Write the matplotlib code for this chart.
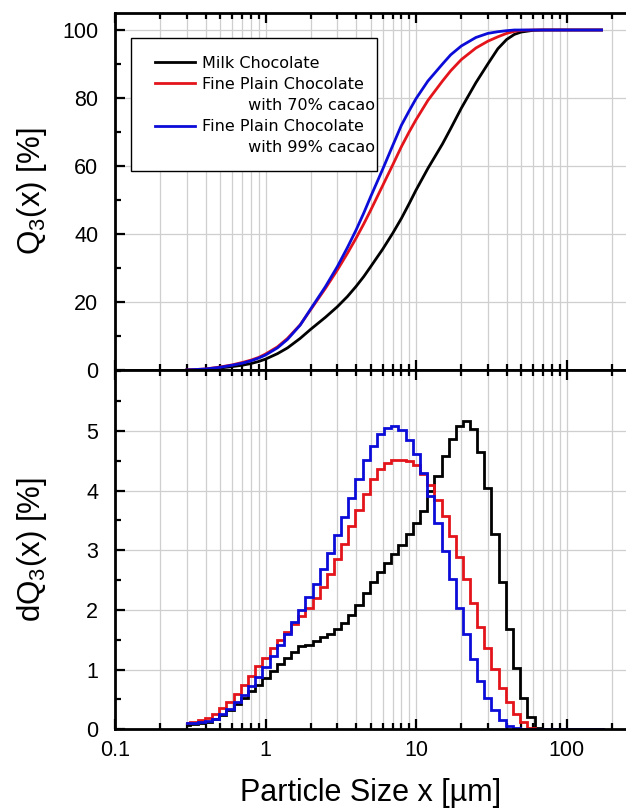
import matplotlib
matplotlib.use('Agg')
import matplotlib.pyplot as plt
from matplotlib.lines import Line2D
from matplotlib.patches import Rectangle
from matplotlib.legend_handler import HandlerLine2D
from matplotlib.ticker import FixedLocator, NullFormatter, MultipleLocator, LogLocator

plt.rcParams['font.family'] = ['Liberation Sans', 'DejaVu Sans']
plt.rcParams['mathtext.fontset'] = 'custom'
plt.rcParams['mathtext.rm'] = 'Liberation Sans'
plt.rcParams['mathtext.it'] = 'Liberation Sans:italic'

# ---------------- data ----------------
labels = ['Milk Chocolate', 'Fine Plain Chocolate', 'Fine Plain Chocolate']
label_cont = ['', '         with 70% cacao', '         with 99% cacao']
colors = ['#000000', '#e4141b', '#0c0cd8']

# cumulative distribution Q3(x) [%]
q3_size = [0.3, 0.4, 0.5, 0.6, 0.7, 0.8, 0.9, 1.0, 1.2, 1.4, 1.7, 2.0, 2.5, 3.0, 3.5,
           4.0, 4.5, 5.0, 6.0, 7.0, 8.0, 9.0, 10.0, 12.0, 15.0, 17.0, 20.0, 25.0,
           30.0, 35.0, 40.0, 45.0, 50.0, 60.0, 70.0, 100.0, 171.0]
q3_milk = [0.0, 0.2, 0.6, 1.0, 1.4, 1.9, 2.5, 3.2, 4.8, 6.5, 9.3, 12.0, 15.5, 18.6, 21.6,
           24.6, 27.5, 30.4, 35.5, 40.2, 44.6, 48.9, 52.9, 59.3, 66.5, 71.0, 77.0, 84.5,
           90.0, 94.5, 97.2, 98.7, 99.4, 99.9, 100.0, 100.0, 100.0]
q3_70 = [0.0, 0.3, 0.9, 1.5, 2.2, 2.9, 3.7, 4.7, 6.8, 9.3, 13.3, 17.8, 24.0, 29.4, 34.3,
         38.8, 43.0, 47.0, 54.2, 60.3, 65.7, 70.0, 73.6, 79.3, 85.0, 88.0, 91.3, 94.7,
         96.7, 98.0, 99.0, 99.6, 99.9, 100.0, 100.0, 100.0, 100.0]
q3_99 = [0.0, 0.3, 0.8, 1.4, 2.0, 2.7, 3.5, 4.4, 6.5, 9.0, 13.2, 18.0, 24.5, 30.4, 36.0,
         41.2, 46.2, 51.0, 59.0, 66.0, 72.0, 76.2, 79.8, 85.0, 90.0, 92.7, 95.3, 97.8,
         99.0, 99.5, 99.8, 100.0, 100.0, 100.0, 100.0, 100.0, 100.0]

# density distribution dQ3(x) [%] per size class
dq3_size = [0.300, 0.3348, 0.3737, 0.4171, 0.4656, 0.5197, 0.5801, 0.6475, 0.7227, 0.8066,
            0.9003, 1.0049, 1.1216, 1.2519, 1.3973, 1.5597, 1.7409, 1.9431, 2.1689, 2.4208,
            2.7020, 3.000, 3.348, 3.737, 4.171, 4.656, 5.197, 5.801, 6.475, 7.227,
            8.066, 9.003, 10.05, 11.22, 12.52, 13.97, 15.60, 17.41, 19.43, 21.69,
            24.21, 27.02, 30.00, 33.48, 37.37, 41.71, 46.56, 51.97, 58.01, 64.75,
            72.27, 80.66, 90.03, 100.5, 112.2, 125.2, 139.7, 156.0, 174.1]
dq3_milk = [0.08, 0.09, 0.10, 0.13, 0.18, 0.24, 0.32, 0.42, 0.53, 0.64,
            0.75, 0.86, 0.98, 1.10, 1.20, 1.30, 1.39, 1.42, 1.48, 1.54,
            1.59, 1.68, 1.78, 1.91, 2.09, 2.28, 2.46, 2.64, 2.79, 2.94,
            3.09, 3.27, 3.45, 3.65, 4.00, 4.25, 4.58, 4.87, 5.08, 5.16,
            5.03, 4.65, 4.05, 3.28, 2.46, 1.68, 1.02, 0.52, 0.20, 0.03,
            0, 0, 0, 0, 0, 0, 0, 0, 0]
dq3_70 = [0.10, 0.12, 0.15, 0.19, 0.26, 0.35, 0.46, 0.59, 0.74, 0.90,
          1.06, 1.20, 1.36, 1.50, 1.63, 1.76, 1.89, 2.03, 2.20, 2.38,
          2.60, 2.85, 3.10, 3.40, 3.68, 3.95, 4.19, 4.36, 4.47, 4.52,
          4.52, 4.49, 4.43, 4.28, 4.09, 3.85, 3.58, 3.24, 2.88, 2.51,
          2.12, 1.72, 1.37, 1.01, 0.70, 0.45, 0.25, 0.12, 0.03, 0,
          0, 0, 0, 0, 0, 0, 0, 0, 0]
dq3_99 = [0.10, 0.11, 0.12, 0.14, 0.18, 0.25, 0.34, 0.45, 0.58, 0.72,
          0.88, 1.05, 1.22, 1.41, 1.60, 1.80, 2.00, 2.21, 2.43, 2.68,
          2.96, 3.25, 3.56, 3.88, 4.20, 4.51, 4.75, 4.94, 5.04, 5.08,
          5.02, 4.85, 4.62, 4.29, 3.91, 3.46, 2.99, 2.51, 2.04, 1.59,
          1.17, 0.81, 0.53, 0.32, 0.16, 0.06, 0.02, 0, 0, 0,
          0, 0, 0, 0, 0, 0, 0, 0, 0]

x_ticks = [0.1, 1, 10, 100]
x_ticklabels = ['0.1', '1', '10', '100']

# ---------------- figure ----------------
W, H = 626, 810
fig = plt.figure(figsize=(W / 100, H / 100), dpi=100)
ax1 = fig.add_axes([115 / W, 1 - 370 / H, (W - 115) / W, (370 - 13) / H])
ax2 = fig.add_axes([115 / W, 1 - 729.3 / H, (W - 115) / W, (729.3 - 370) / H])

lw = 2.0
lines = []
for q, c in zip([q3_milk, q3_70, q3_99], colors):
    ln, = ax1.plot(q3_size, q, color=c, lw=lw, solid_joinstyle='round')
    lines.append(ln)
for d, c in zip([dq3_milk, dq3_70, dq3_99], colors):
    ax2.plot(dq3_size, d, color=c, lw=lw, drawstyle='steps-mid', solid_joinstyle='miter')

grid_col = '#cfcfcf'
for ax in (ax1, ax2):
    ax.set_xscale('log')
    ax.set_xlim(0.1, 10 ** (-1 + (W - 115) / 150.5))
    ax.xaxis.set_major_locator(FixedLocator(x_ticks))
    ax.xaxis.set_minor_locator(LogLocator(base=10, subs=[2, 3, 4, 5, 6, 7, 8, 9], numticks=20))
    ax.xaxis.set_minor_formatter(NullFormatter())
    ax.grid(True, which='both', axis='x', color=grid_col, lw=0.9)
    ax.grid(True, which='major', axis='y', color=grid_col, lw=0.9)
    ax.set_axisbelow(True)
    for s in ['left', 'top', 'bottom']:
        ax.spines[s].set_linewidth(2.0)
    ax.spines['right'].set_visible(False)
    ax.tick_params(which='both', direction='in', top=True, bottom=True, left=True, right=False,
                   width=1.6, colors='black')
    ax.tick_params(which='major', length=7)
    ax.tick_params(which='minor', length=4)
    ax.tick_params(axis='y', which='major', labelsize=15.5, pad=12)
    ax.tick_params(axis='x', which='major', labelsize=15.5, pad=8)

ax1.set_ylim(0, 105)
ax1.yaxis.set_major_locator(FixedLocator([0, 20, 40, 60, 80, 100]))
ax1.yaxis.set_minor_locator(MultipleLocator(10))
ax1.tick_params(labelbottom=False)

ax2.set_ylim(0, 6.02)
ax2.yaxis.set_major_locator(FixedLocator([0, 1, 2, 3, 4, 5]))
ax2.yaxis.set_minor_locator(MultipleLocator(0.5))
ax2.set_xticklabels(x_ticklabels)

ax1.set_ylabel(r'Q$_3$(x) [%]', fontsize=22.5)
ax2.set_ylabel(r'dQ$_3$(x) [%]', fontsize=22.5)
ax1.yaxis.set_label_coords(-0.13, 0.5)
ax2.yaxis.set_label_coords(-0.13, 0.5)
ax2.set_xlabel('Particle Size x [µm]', fontsize=22, labelpad=12)

# legend (frame drawn separately so that it hugs the text as in the original)
blank = Line2D([], [], color='none')
handles = [lines[0], lines[1], blank, lines[2], blank]
texts = [labels[0], labels[1], label_cont[1], labels[2], label_cont[2]]
hmap = {ln: HandlerLine2D(xpad=0.5) for ln in lines}
leg = ax1.legend(handles, texts, loc='upper left',
                 bbox_to_anchor=((131 - 115) / 511, 1 - (40 - 13) / 357),
                 borderaxespad=0, frameon=False,
                 prop={'family': 'DejaVu Sans', 'size': 11.5},
                 handlelength=3.0, handletextpad=0.44, labelspacing=0.38,
                 borderpad=1.0, handler_map=hmap)
frame = Rectangle((131 / W, 1 - 171 / H), (377 - 131) / W, (171 - 38) / H,
                  transform=fig.transFigure, facecolor='white', edgecolor='black',
                  lw=1.0, zorder=4)
ax1.add_artist(frame)
frame.set_clip_on(False)
leg.set_zorder(5)

fig.savefig('out.png', dpi=100)
